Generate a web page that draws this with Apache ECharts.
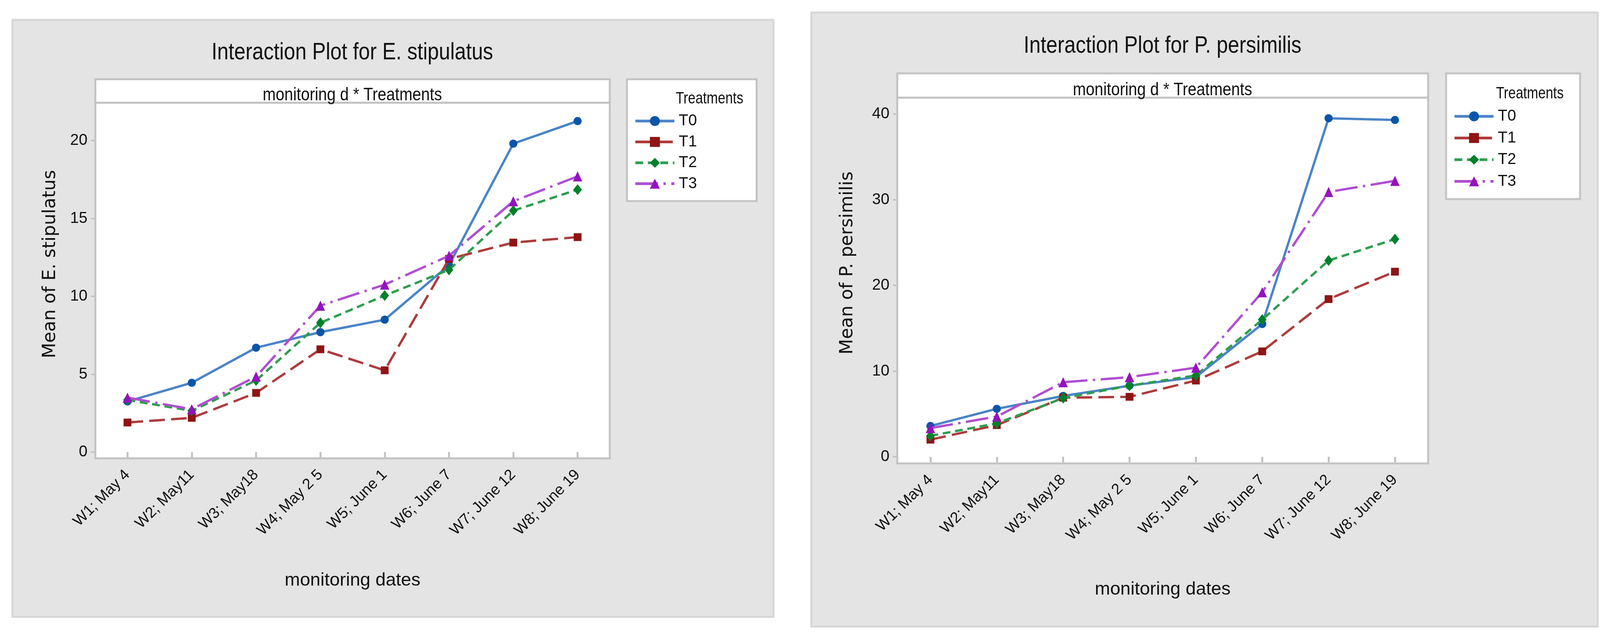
<!DOCTYPE html>
<html>
<head>
<meta charset="utf-8">
<title>Interaction Plots</title>
<script src="https://cdn.jsdelivr.net/npm/echarts@6/dist/echarts.min.js"></script>
<style>
  html, body { margin: 0; padding: 0; background: #fff; }
  #chart { width: 4129px; height: 1647px; }
</style>
</head>
<body>
<div id="chart"></div>
<script>
// monitoring dates (x categories)
var dates = ['W1; May 4', 'W2; May11', 'W3; May18', 'W4; May 2 5', 'W5; June 1', 'W6; June 7', 'W7; June 12', 'W8; June 19'];
var treatments = ['T0', 'T1', 'T2', 'T3'];

// Mean of E. stipulatus
var stipT0 = [3.25, 4.45, 6.7, 7.7, 8.5, 12.0, 19.8, 21.25];
var stipT1 = [1.9, 2.2, 3.8, 6.6, 5.25, 12.4, 13.45, 13.8];
var stipT2 = [3.35, 2.65, 4.6, 8.3, 10.05, 11.7, 15.5, 16.85];
var stipT3 = [3.5, 2.75, 4.85, 9.4, 10.75, 12.6, 16.1, 17.7];

// Mean of P. persimilis
var persT0 = [3.6, 5.6, 7.1, 8.3, 9.3, 15.5, 39.5, 39.3];
var persT1 = [2.0, 3.7, 6.9, 7.0, 8.9, 12.3, 18.4, 21.6];
var persT2 = [2.45, 3.9, 6.85, 8.3, 9.5, 16.0, 22.9, 25.4];
var persT3 = [3.35, 4.7, 8.7, 9.3, 10.4, 19.2, 30.9, 32.2];

var stipTicks = [0, 5, 10, 15, 20];
var persTicks = [0, 10, 20, 30, 40];

var SANS = "'Liberation Sans', Arial, sans-serif";
var WIDE = "'DejaVu Sans', Verdana, sans-serif";
var FRAME = '#c3c3c3';

// line / marker look per treatment
var looks = [
  { line: '#4a84c8', mark: '#0b55a8', type: 'solid', symbol: 'circle', size: 21 },
  { line: '#ad3b3b', mark: '#8f1515', type: [40, 16], symbol: 'rect', size: 20 },
  { line: '#2f9d4f', mark: '#00802a', type: [20, 12], symbol: 'diamond', size: [22, 28] },
  { line: '#b04ed2', mark: '#9313bd', type: [58, 14, 6, 14], symbol: 'triangle', size: [24, 26] }
];

function makeSeries(values, axisIdx) {
  return values.map(function (data, i) {
    var lk = looks[i];
    return {
      name: treatments[i],
      type: 'line',
      xAxisIndex: axisIdx,
      yAxisIndex: axisIdx,
      data: data,
      symbol: lk.symbol,
      symbolSize: lk.size,
      showAllSymbol: true,
      lineStyle: { color: lk.line, width: 6, type: lk.type },
      itemStyle: { color: lk.mark },
      z: 3 + i
    };
  });
}

function xAxisOf(gridIdx, gap) {
  return {
    type: 'category', gridIndex: gridIdx, data: dates, boundaryGap: true,
    axisLine: { show: false },
    axisTick: { show: true, alignWithLabel: true, length: 14, lineStyle: { color: FRAME, width: 5 } },
    axisLabel: { rotate: 45, margin: 36, fontFamily: SANS, fontSize: 39, color: '#111', interval: 0 },
    splitLine: { show: false },
    name: 'monitoring dates', nameLocation: 'middle', nameGap: gap,
    nameTextStyle: { fontFamily: SANS, fontSize: 47, color: '#111' }
  };
}

function yAxisOf(gridIdx, min, max, ticks, name, gap, lift) {
  return {
    type: 'value', gridIndex: gridIdx, min: min, max: max,
    axisLine: { show: false },
    axisTick: { show: true, length: 11, lineStyle: { color: FRAME, width: 4 }, customValues: ticks },
    axisLabel: { margin: 20, fontFamily: SANS, fontSize: 40, color: '#111', customValues: ticks },
    splitLine: { show: false },
    name: name, nameLocation: 'middle', nameGap: gap,
    nameTextStyle: { fontFamily: WIDE, fontSize: 46, color: '#111', padding: [0, 0, 0, lift] }
  };
}

function legendAt(left, top, gap) {
  return {
    left: left, top: top, orient: 'vertical', itemWidth: 100, itemHeight: 32, itemGap: gap,
    selectedMode: false, data: treatments,
    lineStyle: { width: 7 },
    textStyle: { fontFamily: SANS, fontSize: 40, color: '#111', lineHeight: 42, padding: [0, 0, 0, 6] }
  };
}

function label(x, y, text, size, sx, align) {
  return {
    type: 'text', z: 2, silent: true, x: x, y: y, scaleX: sx,
    style: { text: text, fontFamily: SANS, fontSize: size, fill: '#111', align: align, verticalAlign: 'middle' }
  };
}

var chart = echarts.init(document.getElementById('chart'), null, { renderer: 'canvas' });
chart.setOption({
  backgroundColor: '#ffffff',
  animation: false,
  grid: [
    { left: 244, top: 263, width: 1317, height: 911, show: true, backgroundColor: '#fff', borderColor: FRAME, borderWidth: 5 },
    { left: 2297, top: 250, width: 1359, height: 937, show: true, backgroundColor: '#fff', borderColor: FRAME, borderWidth: 5 }
  ],
  xAxis: [xAxisOf(0, 290), xAxisOf(1, 300)],
  yAxis: [
    yAxisOf(0, -0.4, 22.43, stipTicks, 'Mean of E. stipulatus', 92, 84),
    yAxisOf(1, -0.77, 41.91, persTicks, 'Mean of P. persimilis', 104, 90)
  ],
  legend: [legendAt(1618, 284, 11.5), legendAt(3715, 272, 13.5)],
  graphic: [
    // panel backgrounds
    { type: 'rect', z: -10, silent: true, shape: { x: 32, y: 51, width: 1948, height: 1529 },
      style: { fill: '#e4e4e4', stroke: '#d6d6d6', lineWidth: 5 } },
    { type: 'rect', z: -10, silent: true, shape: { x: 2077, y: 32, width: 2013, height: 1573 },
      style: { fill: '#e4e4e4', stroke: '#d6d6d6', lineWidth: 5 } },
    // strip headers
    { type: 'rect', z: 1, silent: true, shape: { x: 244, y: 203, width: 1317, height: 60 },
      style: { fill: '#fff', stroke: FRAME, lineWidth: 5 } },
    { type: 'rect', z: 1, silent: true, shape: { x: 2297, y: 188, width: 1359, height: 62 },
      style: { fill: '#fff', stroke: FRAME, lineWidth: 5 } },
    label(902, 244, 'monitoring d * Treatments', 46, 0.87, 'center'),
    label(2976, 231, 'monitoring d * Treatments', 46, 0.87, 'center'),
    // titles
    label(902, 135, 'Interaction Plot for E. stipulatus', 62, 0.84, 'center'),
    label(2976, 118, 'Interaction Plot for P. persimilis', 62, 0.84, 'center'),
    // legend boxes
    { type: 'rect', z: 1, silent: true, shape: { x: 1605, y: 203, width: 332, height: 312 },
      style: { fill: '#fff', stroke: FRAME, lineWidth: 5 } },
    { type: 'rect', z: 1, silent: true, shape: { x: 3702, y: 188, width: 343, height: 322 },
      style: { fill: '#fff', stroke: FRAME, lineWidth: 5 } },
    label(1730, 253, 'Treatments', 42, 0.82, 'left'),
    label(3830, 240, 'Treatments', 42, 0.82, 'left')
  ],
  series: makeSeries([stipT0, stipT1, stipT2, stipT3], 0)
    .concat(makeSeries([persT0, persT1, persT2, persT3], 1))
});
</script>
</body>
</html>
